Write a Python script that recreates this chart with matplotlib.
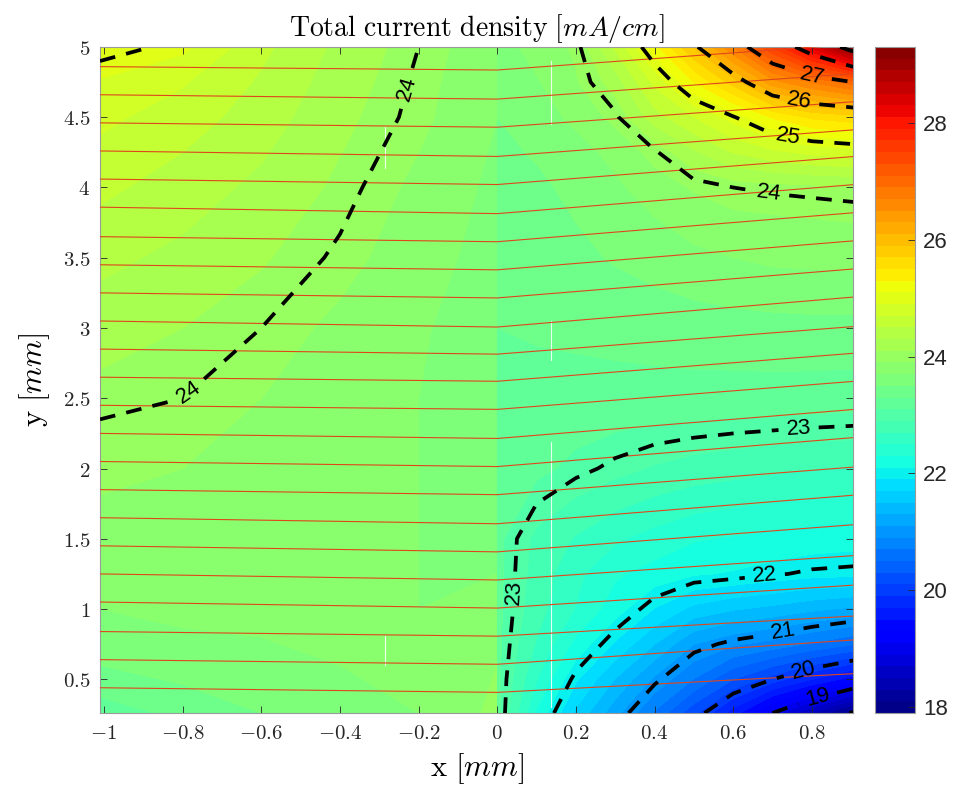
import matplotlib
matplotlib.use("Agg")
import matplotlib.pyplot as plt
import numpy as np

plt.rcParams["mathtext.fontset"] = "cm"

# ── Field values (mA/cm) ──
# left part of the domain (x <= 0)
x_left = [-1.01, -0.8, -0.6, -0.4, -0.2, 0.0]
y_left = [0.26, 0.6, 1.0, 1.5, 2.0, 2.5, 3.0, 3.5, 4.0, 4.5, 4.75, 5.0]
j_left = [
    [23.20, 23.35, 23.50, 23.55, 23.70, 23.95],
    [23.50, 23.60, 23.65, 23.70, 23.75, 23.90],
    [23.70, 23.75, 23.75, 23.75, 23.70, 23.75],
    [23.85, 23.85, 23.80, 23.75, 23.70, 23.65],
    [23.93, 23.90, 23.85, 23.75, 23.70, 23.60],
    [24.03, 24.00, 23.90, 23.80, 23.70, 23.60],
    [24.20, 24.10, 24.00, 23.85, 23.72, 23.60],
    [24.35, 24.25, 24.12, 23.97, 23.78, 23.62],
    [24.55, 24.40, 24.25, 24.06, 23.85, 23.65],
    [24.75, 24.60, 24.40, 24.15, 23.95, 23.70],
    [24.88, 24.72, 24.47, 24.20, 23.97, 23.72],
    [25.08, 24.95, 24.55, 24.25, 24.00, 23.75],
]

# right part of the domain (x >= 0)
x_right = [0.0, 0.1, 0.2, 0.3, 0.4, 0.5, 0.6, 0.7, 0.8, 0.905]
y_right = [0.26, 0.5, 0.75, 1.0, 1.25, 1.5, 2.0, 2.5, 3.0, 3.5, 3.75, 4.0, 4.25,
           4.5, 4.75, 5.0]
j_right = [
    [23.18, 22.27, 21.66, 21.17, 20.67, 20.15, 19.59, 19.00, 18.50, 17.95],
    [23.15, 22.51, 21.93, 21.49, 21.06, 20.69, 20.30, 20.00, 19.70, 19.40],
    [23.15, 22.68, 22.24, 21.87, 21.50, 21.10, 20.93, 20.82, 20.67, 20.52],
    [23.15, 22.78, 22.49, 22.19, 21.89, 21.64, 21.52, 21.44, 21.34, 21.26],
    [23.15, 22.82, 22.55, 22.33, 22.22, 22.12, 22.08, 22.02, 21.97, 21.95],
    [23.15, 22.85, 22.68, 22.53, 22.42, 22.32, 22.28, 22.24, 22.20, 22.18],
    [23.22, 23.15, 23.05, 22.96, 22.88, 22.82, 22.78, 22.74, 22.71, 22.69],
    [23.25, 23.24, 23.23, 23.23, 23.23, 23.23, 23.22, 23.22, 23.21, 23.20],
    [23.30, 23.32, 23.34, 23.36, 23.38, 23.40, 23.42, 23.43, 23.44, 23.44],
    [23.35, 23.40, 23.45, 23.52, 23.58, 23.65, 23.70, 23.74, 23.75, 23.76],
    [23.38, 23.43, 23.50, 23.58, 23.68, 23.78, 23.84, 23.86, 23.88, 23.90],
    [23.40, 23.46, 23.55, 23.66, 23.80, 23.92, 24.00, 24.03, 24.05, 24.07],
    [23.45, 23.52, 23.62, 23.76, 23.97, 24.27, 24.51, 24.65, 24.75, 24.81],
    [23.50, 23.60, 23.75, 23.96, 24.41, 24.70, 24.98, 25.32, 25.54, 25.62],
    [23.55, 23.68, 23.88, 24.20, 24.75, 25.30, 25.79, 26.42, 26.72, 27.00],
    [23.60, 23.78, 23.93, 24.53, 25.23, 25.92, 26.70, 27.52, 28.35, 29.30],
]

# current streamlines: y where each line enters (x=-1.01), crosses x=0, leaves (x=0.905)
line_x = [-1.01, 0.0, 0.905]
line_y_in = [4.86, 4.66, 4.46, 4.26, 4.06, 3.86, 3.65, 3.45, 3.25, 3.05, 2.85, 2.65,
             2.45, 2.25, 2.05, 1.85, 1.65, 1.45, 1.25, 1.05, 0.84, 0.64, 0.44]
line_y_mid = [4.836, 4.629, 4.429, 4.221, 4.021, 3.814, 3.614, 3.414, 3.214, 3.007, 2.814, 2.621,
              2.421, 2.214, 2.014, 1.814, 1.607, 1.407, 1.207, 1.007, 0.807, 0.607, 0.407]
line_y_out = [5.02, 4.81, 4.61, 4.41, 4.22, 4.02, 3.82, 3.62, 3.42, 3.22, 3.01, 2.82,
              2.62, 2.42, 2.22, 2.01, 1.81, 1.60, 1.38, 1.17, 0.95, 0.78, 0.54]

# faint white mesh seams visible in the picture: (x, y_from, y_to)
seams = [(-0.286, 4.14, 4.43), (-0.286, 0.60, 0.81),
         (0.137, 4.45, 4.90), (0.137, 2.77, 3.05), (0.137, 0.30, 2.19)]

line_levels = [18, 19, 20, 21, 22, 23, 24, 25, 26, 27, 28, 29]
cbar_ticks = [18, 20, 22, 24, 26, 28]

# label spots for the dashed iso-lines
left_label_pos = [(-0.26, 4.73), (-0.79, 2.56)]
right_label_pos = [(0.018, 1.12), (0.765, 2.34), (0.68, 1.25), (0.73, 0.81), (0.78, 0.54),
                   (0.815, 0.36), (0.69, 3.93), (0.74, 4.39), (0.77, 4.64), (0.80, 4.79)]

VMIN, VMAX = 17.9, 29.3
fill_levels = np.linspace(VMIN, VMAX, 58)
SANS = ["Liberation Sans", "DejaVu Sans"]
DASH = [(0, (4.2, 3.0))]

fig = plt.figure(figsize=(9.57, 7.92), dpi=100)
ax = fig.add_axes([0.1045, 0.0997, 0.787, 0.841])
cax = fig.add_axes([0.9143, 0.0997, 0.0418, 0.841])

XL, YL = np.meshgrid(x_left, y_left)
XR, YR = np.meshgrid(x_right, y_right)
ZL, ZR = np.array(j_left), np.array(j_right)

ax.contourf(XL, YL, ZL, levels=fill_levels, cmap="jet", vmin=VMIN, vmax=VMAX)
cf = ax.contourf(XR, YR, ZR, levels=fill_levels, cmap="jet", vmin=VMIN, vmax=VMAX)

for sx, sy0, sy1 in seams:
    ax.plot([sx, sx], [sy0, sy1], color="white", lw=0.8, alpha=0.85, zorder=2)

# streamlines
for y0, y1, y2 in zip(line_y_in, line_y_mid, line_y_out):
    ax.plot(line_x, [y0, y1, y2], color="#e0461c", lw=0.8, zorder=3)

# dashed iso-lines with labels
csl = ax.contour(XL, YL, ZL, levels=line_levels, colors="k", linewidths=2.7,
                 linestyles=DASH, zorder=4)
csr = ax.contour(XR, YR, ZR, levels=line_levels, colors="k", linewidths=2.7,
                 linestyles=DASH, zorder=4)
for cs, pos in ((csl, left_label_pos), (csr, right_label_pos)):
    labels = ax.clabel(cs, fmt="%d", fontsize=16, inline=True, inline_spacing=6, manual=pos)
    for t in labels:
        t.set_fontfamily(SANS)

ax.set_xlim(-1.01, 0.905)
ax.set_ylim(0.26, 5.0)

xticks = [-1, -0.8, -0.6, -0.4, -0.2, 0, 0.2, 0.4, 0.6, 0.8]
yticks = [0.5, 1, 1.5, 2, 2.5, 3, 3.5, 4, 4.5, 5]
ax.set_xticks(xticks)
ax.set_xticklabels([f"${v:g}$" for v in xticks], fontsize=15)
ax.set_yticks(yticks)
ax.set_yticklabels([f"${v:g}$" for v in yticks], fontsize=15)
ax.tick_params(direction="in", length=5, width=0.6, colors="#262626",
               top=True, right=True, pad=7)
for spine in ax.spines.values():
    spine.set_color("#9a9a9a")
    spine.set_linewidth(0.8)

ax.set_xlabel(r"$\mathrm{x}\ [mm]$", fontsize=22, labelpad=6)
ax.set_ylabel(r"$\mathrm{y}\ [mm]$", fontsize=22, labelpad=8)
ax.set_title(r"$\mathrm{Total\ current\ density}\ [mA/cm]$", fontsize=20, pad=8)

cb = fig.colorbar(cf, cax=cax, ticks=cbar_ticks)
cb.set_ticklabels([str(t) for t in cbar_ticks])
cb.outline.set_edgecolor("#9a9a9a")
cb.outline.set_linewidth(0.8)
cax.tick_params(direction="in", length=5, width=0.6, colors="#262626", labelsize=16, pad=6)
for t in cax.get_yticklabels():
    t.set_fontfamily(SANS)

fig.savefig("out.png", dpi=100, facecolor="white")
plt.close(fig)
